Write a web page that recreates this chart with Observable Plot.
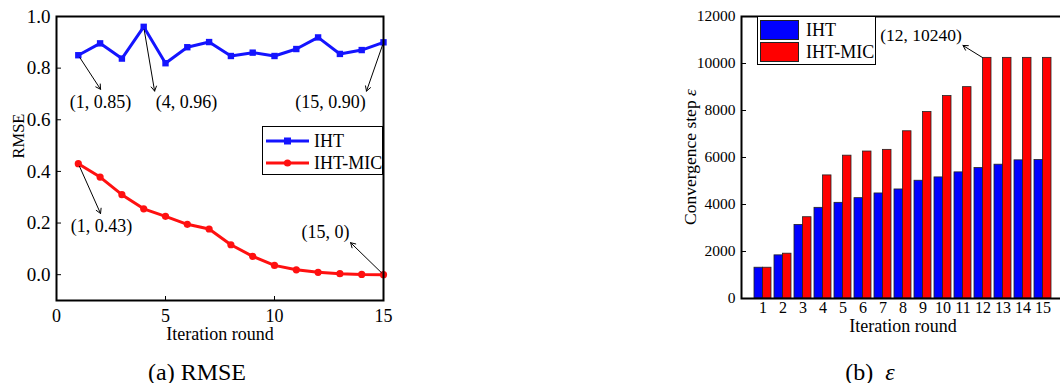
<!DOCTYPE html>
<html><head><meta charset="utf-8">
<script src="https://cdn.jsdelivr.net/npm/d3@7"></script>
<script src="https://cdn.jsdelivr.net/npm/@observablehq/plot@0.6"></script>
<style>
html,body{margin:0;padding:0;background:#fff;}
body{width:1060px;height:383px;position:relative;overflow:hidden;font-family:"Liberation Serif","Times New Roman",serif;color:#000;}
.abs{position:absolute;}
.abs svg{max-width:none !important;}
.legend{position:absolute;background:#fff;border:1px solid #000;box-sizing:border-box;}
.row{position:absolute;left:0;height:20px;display:flex;align-items:center;font-size:18px;white-space:nowrap;}
.cap{position:absolute;font-size:24px;text-align:center;line-height:28px;}
</style></head>
<body>
<div id="a" class="abs" style="left:0;top:0;width:400px;height:345px;"></div>
<div id="b" class="abs" style="left:660px;top:0;width:420px;height:345px;"></div>

<div class="legend" style="left:262px;top:126px;width:121px;height:49px;">
  <div class="row" style="top:4px;"><svg width="48" height="20" style="margin-left:2px"><line x1="1" y1="10" x2="44" y2="10" stroke="#1414ff" stroke-width="3"/><rect x="19" y="6.5" width="7" height="7" fill="#1414ff"/></svg><span style="margin-left:1px">IHT</span></div>
  <div class="row" style="top:26px;"><svg width="48" height="20" style="margin-left:2px"><line x1="1" y1="10" x2="44" y2="10" stroke="#ff1010" stroke-width="3"/><circle cx="22.5" cy="10" r="3.6" fill="#ff1010"/></svg><span style="margin-left:1px">IHT-MIC</span></div>
</div>

<div class="legend" style="left:757px;top:16px;width:119px;height:49px;">
  <div class="row" style="top:3px;"><svg width="42" height="20" style="margin-left:2px"><rect x="0.5" y="0.5" width="38" height="19" fill="#0000ff" stroke="#222" stroke-width="1"/></svg><span style="margin-left:4px">IHT</span></div>
  <div class="row" style="top:25px;"><svg width="42" height="20" style="margin-left:2px"><rect x="0.5" y="0.5" width="38" height="19" fill="#ff0000" stroke="#222" stroke-width="1"/></svg><span style="margin-left:4px">IHT-MIC</span></div>
</div>

<div class="abs" style="left:690px;top:157px;transform:translate(-50%,-50%) rotate(-90deg);font-size:17.5px;white-space:nowrap;">Convergence step <i>ε</i></div>

<div class="cap" style="left:97px;width:200px;top:358px;">(a) RMSE</div>
<div class="cap" style="left:770px;width:200px;top:358px;">(b)&nbsp; <i>ε</i></div>

<script>
// ---- data ----
const rounds = [1, 2, 3, 4, 5, 6, 7, 8, 9, 10, 11, 12, 13, 14, 15];
const rmseIHT = [0.85, 0.896, 0.837, 0.96, 0.819, 0.881, 0.901, 0.847, 0.86, 0.847, 0.874, 0.919, 0.855, 0.87, 0.90];
const rmseMIC = [0.43, 0.378, 0.31, 0.255, 0.226, 0.195, 0.177, 0.116, 0.071, 0.036, 0.019, 0.009, 0.004, 0.001, 0.0];
const stepIHT = [1310, 1836, 3132, 3858, 4071, 4270, 4470, 4640, 5011, 5153, 5367, 5552, 5694, 5879, 5893];
const stepMIC = [1310, 1907, 3459, 5238, 6078, 6254, 6325, 7116, 7935, 8613, 8994, 10240, 10240, 10240, 10240];
const xTicksA = [0, 5, 10, 15];
const yTicksA = [0, 0.2, 0.4, 0.6, 0.8, 1.0];
const yTicksB = [0, 2000, 4000, 6000, 8000, 10000, 12000];
// annotations: point (x1,y1) -> arrow end (x2,y2), label at (tx,ty)
const annA = [
  {x1: 1, y1: 0.85, x2: 2.02, y2: 0.718, tx: 2.02, ty: 0.668, label: "(1, 0.85)"},
  {x1: 4, y1: 0.96, x2: 4.5, y2: 0.711, tx: 5.96, ty: 0.668, label: "(4, 0.96)"},
  {x1: 15, y1: 0.90, x2: 14.22, y2: 0.711, tx: 12.57, ty: 0.668, label: "(15, 0.90)"},
  {x1: 1, y1: 0.43, x2: 2.02, y2: 0.237, tx: 2.06, ty: 0.186, label: "(1, 0.43)"},
  {x1: 15, y1: 0.0, x2: 13.49, y2: 0.124, tx: 12.34, ty: 0.163, label: "(15, 0)"}
];
const annB = [{x1: 12, y1: 10240, x2: 11, y2: 10766, tx: 9, ty: 11191, label: "(12, 10240)"}];

const BLUE = "#1414ff", RED = "#ff1010";
const ihtA = rounds.map((r, i) => ({round: r, value: rmseIHT[i]}));
const micA = rounds.map((r, i) => ({round: r, value: rmseMIC[i]}));
const steps = rounds.map((r, i) => ({round: r, iht: stepIHT[i], mic: stepMIC[i]}));
const FONT = "Liberation Serif";

const left = Plot.plot({
  width: 400, height: 345,
  marginLeft: 56, marginRight: 17, marginTop: 16, marginBottom: 45,
  style: {fontFamily: FONT, fontSize: "18px", color: "#000", background: "transparent", overflow: "visible"},
  x: {domain: [0, 15]},
  y: {domain: [-0.1, 1.0]},
  marks: [
    Plot.axisX({ticks: xTicksA, tickSize: -4, tickPadding: 13, tickFormat: d => String(d), fontSize: 18, label: null}),
    Plot.axisY({ticks: yTicksA, tickSize: -5, tickPadding: 11, tickFormat: d3.format(".1f"), fontSize: 19, label: null}),
    Plot.line(ihtA, {x: "round", y: "value", stroke: BLUE, strokeWidth: 3}),
    Plot.dot(ihtA, {x: "round", y: "value", symbol: "square", r: 3.6, fill: BLUE}),
    Plot.line(micA, {x: "round", y: "value", stroke: RED, strokeWidth: 3}),
    Plot.dot(micA, {x: "round", y: "value", symbol: "circle", r: 3.6, fill: RED}),
    Plot.arrow(annA, {x1: "x1", y1: "y1", x2: "x2", y2: "y2", stroke: "#000", strokeWidth: 1, headLength: 8, insetStart: 3}),
    Plot.text(annA, {x: "tx", y: "ty", text: "label", fontSize: 18, fill: "#000"}),
    Plot.text(["Iteration round"], {frameAnchor: "bottom", dy: 39, fontSize: 18, fill: "#000"}),
    Plot.text(["RMSE"], {frameAnchor: "left", dx: -38, rotate: -90, fontSize: 16.5, fill: "#000"}),
    Plot.frame({stroke: "#000", strokeWidth: 2})
  ]
});
document.getElementById("a").append(left);

const right = Plot.plot({
  width: 420, height: 345,
  marginLeft: 81, marginRight: 16, marginTop: 16, marginBottom: 47,
  style: {fontFamily: FONT, fontSize: "16px", color: "#000", background: "transparent", overflow: "visible"},
  x: {type: "band", domain: rounds, paddingInner: 0.15, paddingOuter: 0.625},
  y: {domain: [0, 12000]},
  marks: [
    Plot.barY(steps, {x: "round", y: "iht", fill: "#0000ff", stroke: "#222", strokeWidth: 0.8, insetRight: 8.5}),
    Plot.barY(steps, {x: "round", y: "mic", fill: "#ff0000", stroke: "#222", strokeWidth: 0.8, insetLeft: 8.5}),
    Plot.axisX({tickSize: 0, tickPadding: 3, tickFormat: d => String(d), fontSize: 16, label: null}),
    Plot.axisY({ticks: yTicksB, tickSize: -5, tickPadding: 11, tickFormat: d => String(d), fontSize: 15.5, label: null}),
    Plot.arrow(annB, {x1: "x1", y1: "y1", x2: "x2", y2: "y2", stroke: "#000", strokeWidth: 1, headLength: 8, insetStart: 1}),
    Plot.text(annB, {x: "tx", y: "ty", text: "label", dx: -2, fontSize: 17.5, fill: "#000"}),
    Plot.text(["Iteration round"], {frameAnchor: "bottom", dy: 33, fontSize: 18, fill: "#000"}),
    Plot.frame({stroke: "#000", strokeWidth: 2})
  ]
});
document.getElementById("b").append(right);
</script>
</body></html>
